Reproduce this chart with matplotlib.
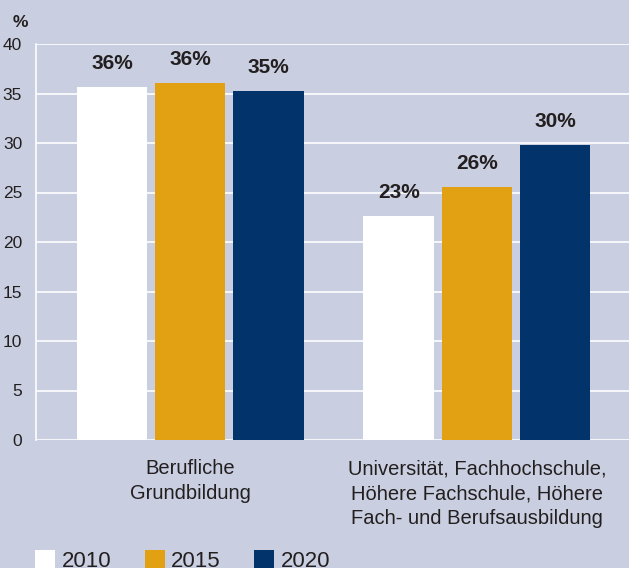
import matplotlib.pyplot as plt
import numpy as np
from matplotlib.patches import Patch

plt.rcParams['font.family'] = ['Liberation Sans', 'DejaVu Sans']

categories = ['Berufliche\nGrundbildung',
              'Universität, Fachhochschule,\nHöhere Fachschule, Höhere\nFach- und Berufsausbildung']
years = ['2010', '2015', '2020']
v2010 = [35.7, 22.6]
v2015 = [36.1, 25.6]
v2020 = [35.3, 29.8]
labels2010 = ['36', '23']
labels2015 = ['36', '26']
labels2020 = ['35', '30']

bg = '#c9cfe0'
txt = '#231f20'
colors = ['#ffffff', '#e2a013', '#02336a']

fig = plt.figure(figsize=(6.29, 5.68), dpi=100, facecolor=bg)
ax = fig.add_axes([36 / 629, 1 - 440 / 568, 1 - 36 / 629, (440 - 44) / 568])
ax.set_facecolor(bg)

x = np.arange(len(categories))
w = 0.247
step = 0.272
series = [(v2010, labels2010), (v2015, labels2015), (v2020, labels2020)]
for i, (vals, labs) in enumerate(series):
    xs = x + (i - 1) * step
    ax.bar(xs, vals, width=w, color=colors[i], zorder=3)
    for xi, v, l in zip(xs, vals, labs):
        ax.annotate(l + '%', (xi, v), xytext=(0, 10), textcoords='offset points',
                    ha='center', va='bottom', fontsize=15, fontweight='bold', color=txt)

ax.set_xlim(-0.537, 1.53)
ax.set_ylim(0, 40)
ax.set_yticks(range(0, 41, 5))
ax.yaxis.grid(True, color='white', linewidth=1.2, zorder=0)
ax.set_axisbelow(True)
for s in ['top', 'right', 'bottom']:
    ax.spines[s].set_visible(False)
ax.spines['left'].set_color('white')
ax.spines['left'].set_linewidth(1.2)
ax.tick_params(axis='y', length=0, pad=10, labelsize=12.5, labelcolor=txt)
ax.set_xticks(x)
ax.set_xticklabels(categories, fontsize=14.5, color=txt, linespacing=1.38)
ax.tick_params(axis='x', length=0, pad=14)

fig.text(13 / 629, 1 - 27 / 568, '%', fontsize=12.5, fontweight='bold', color=txt)

handles = [Patch(facecolor=c, edgecolor='none') for c in colors]
fig.legend(handles, years, loc='upper left', bbox_to_anchor=(35 / 629, 1 - 550 / 568),
           ncol=3, frameon=False, fontsize=16, handlelength=0.9, handleheight=0.9,
           handletextpad=0.3, columnspacing=1.5, borderpad=0, borderaxespad=0,
           labelcolor=txt)

fig.savefig('out.png', dpi=100, facecolor=bg)
